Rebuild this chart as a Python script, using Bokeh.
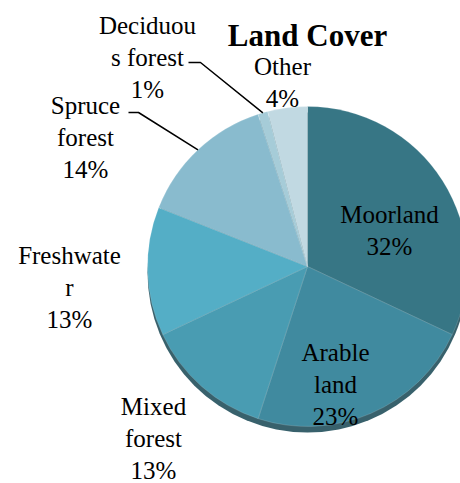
import math
from bokeh.plotting import figure
from bokeh.models import Range1d, ColumnDataSource
from bokeh.core.properties import value
from bokeh.embed import file_html
from bokeh.resources import INLINE

# ---- data ----
categories = ["Moorland", "Arable land", "Mixed forest", "Freshwater",
              "Spruce forest", "Deciduous forest", "Other"]
percent = [32, 23, 13, 13, 14, 1, 4]
label_texts = ["Moorland\n32%", "Arable\nland\n23%", "Mixed\nforest\n13%",
               "Freshwate\nr\n13%", "Spruce\nforest\n14%",
               "Deciduou\ns forest\n1%", "Other\n4%"]
colors = ["#377685", "#408a9f", "#499cb2", "#54aec6", "#89bbce", "#a6ccd8", "#c1d9e2"]

# ---- layout (pixels, y measured from top) ----
W, H = 460, 483
CX, CY, R = 307, 266, 160
label_pos = [(389, 230), (335, 384), (153, 438), (69, 287), (85, 137), (147, 57), (282, 82)]
leader_elbows = {4: [(128, 112), (138, 112)], 5: [(188, 62), (200, 62)]}

def Y(y):
    return H - y

p = figure(width=W, height=H, output_backend="svg", toolbar_location=None,
           x_range=Range1d(0, W), y_range=Range1d(0, H), min_border=0)
p.axis.visible = False
p.grid.visible = False
p.outline_line_color = None
p.background_fill_color = "white"
p.border_fill_color = "white"

total = sum(percent)
cum = [0]
for v in percent:
    cum.append(cum[-1] + v)
starts = [math.pi / 2 - 2 * math.pi * cum[i + 1] / total for i in range(len(percent))]
ends = [math.pi / 2 - 2 * math.pi * cum[i] / total for i in range(len(percent))]
mids = [(a + b) / 2 for a, b in zip(starts, ends)]

# 3D-like bottom rim
p.circle(x=[CX], y=[Y(CY + 6)], radius=R, fill_color="#22505c", line_color=None, fill_alpha=0.9)

src = ColumnDataSource(dict(x=[CX] * len(percent), y=[Y(CY)] * len(percent),
                            start=starts, end=ends, color=colors, cat=categories))
p.wedge(x="x", y="y", radius=R, start_angle="start", end_angle="end",
        direction="anticlock", fill_color="color", line_color="white",
        line_alpha=0.25, line_width=0.6, source=src)

# leader lines
for i, elbows in leader_elbows.items():
    ex = CX + R * math.cos(mids[i])
    ey = Y(CY) + R * math.sin(mids[i])
    xs = [e[0] for e in elbows] + [ex]
    ys = [Y(e[1]) for e in elbows] + [ey]
    p.line(xs, ys, line_color="black", line_width=1.5)

# labels
p.text(x=[lp[0] for lp in label_pos], y=[Y(lp[1]) for lp in label_pos], text=label_texts,
       text_font=value("Liberation Serif"), text_font_size="25px",
       text_align="center", text_baseline="middle", text_color="black",
       text_line_height=1.2)

# title
p.text(x=[307], y=[Y(35)], text=["Land Cover"], text_font=value("Liberation Serif"),
       text_font_size="31px", text_font_style="bold", text_align="center",
       text_baseline="alphabetic", text_color="black")

open("out.html", "w").write(file_html(p, INLINE))
